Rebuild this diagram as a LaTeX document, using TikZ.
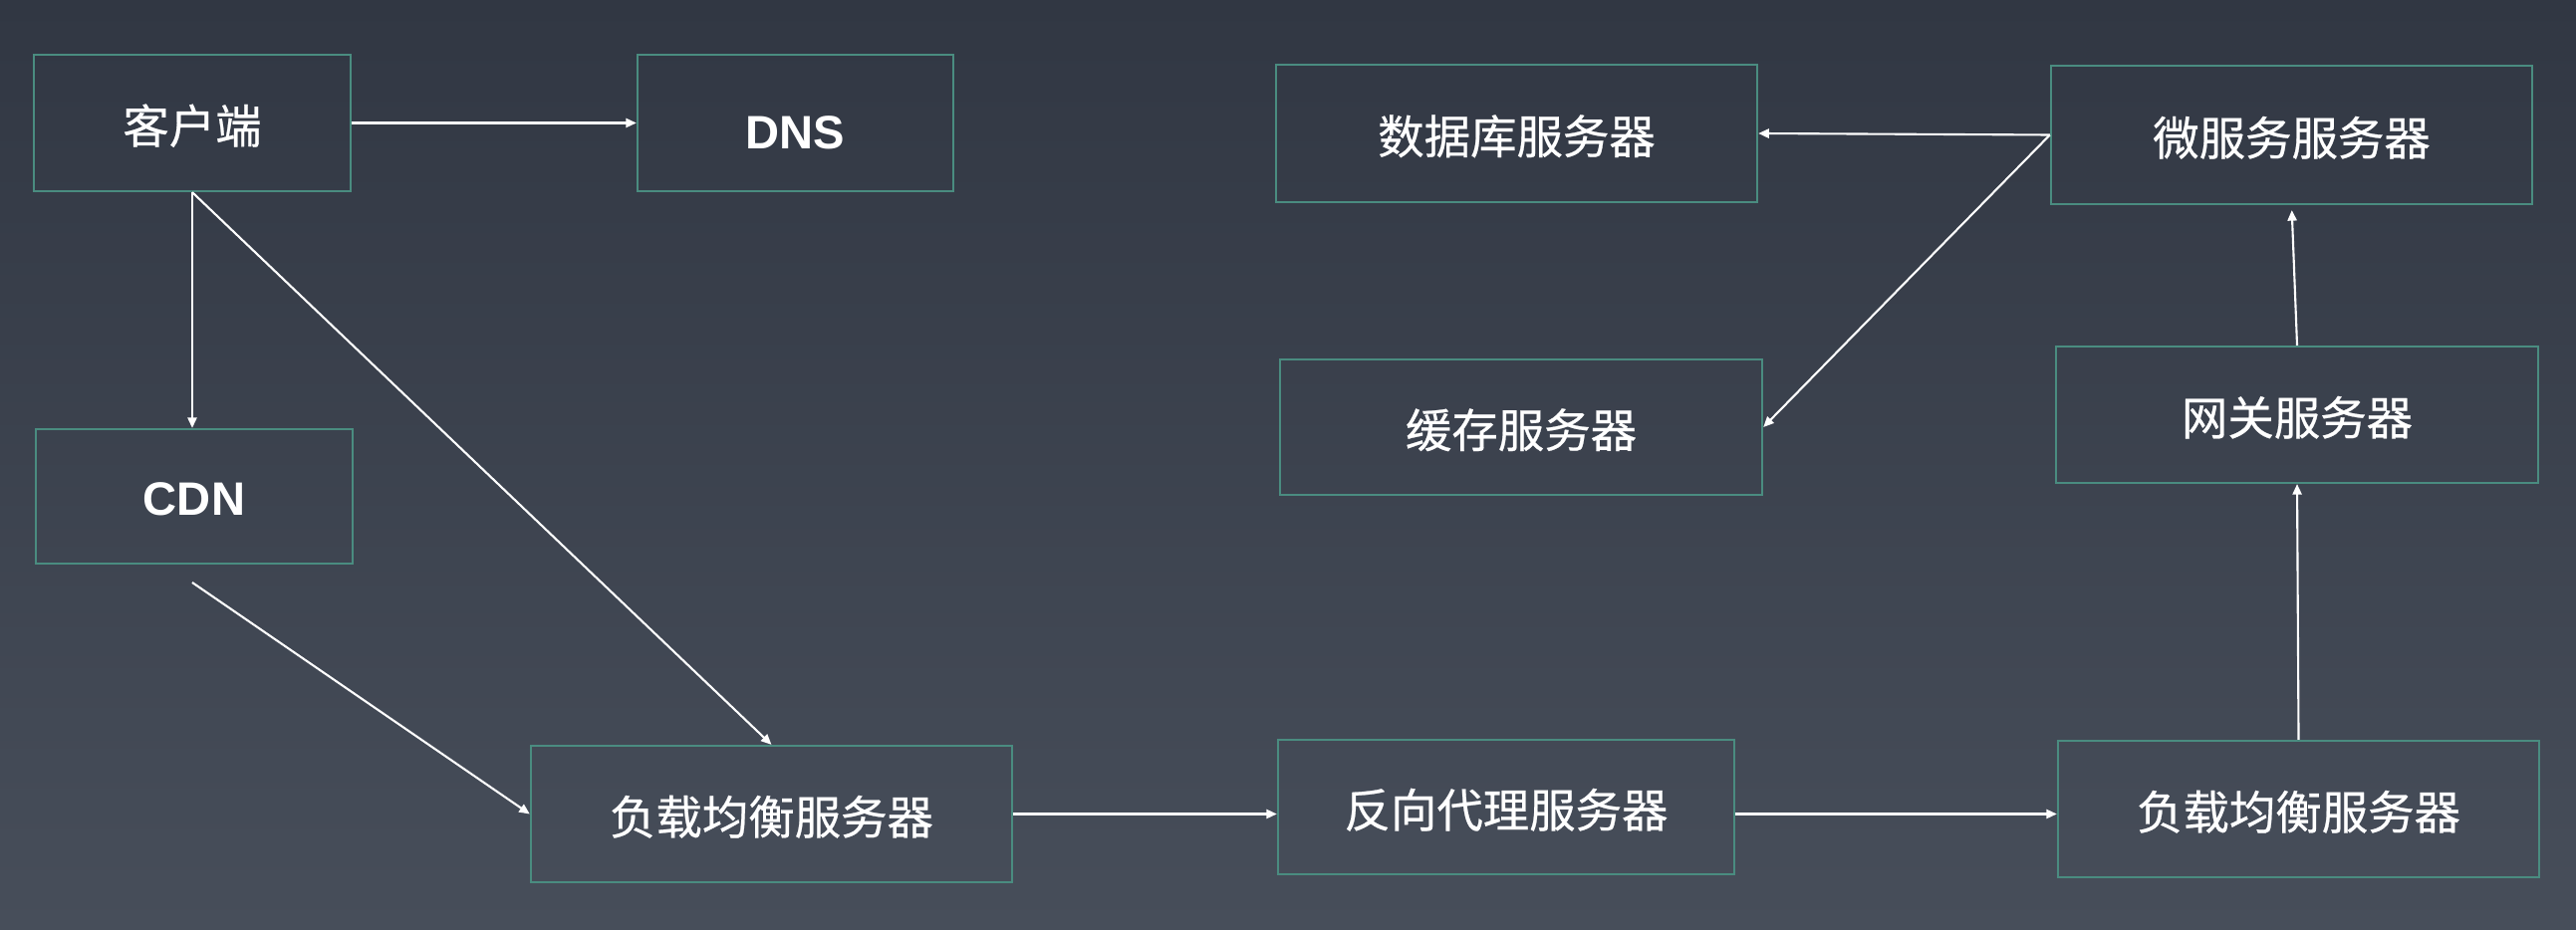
\documentclass[tikz,border=0pt]{standalone}
\usepackage{fontspec}
\usepackage{tikz}
\usetikzlibrary{arrows.meta}
\setmainfont{Liberation Sans}
\newfontfamily\cjk{Noto Sans CJK SC}[FakeBold=0.5]

\definecolor{bgtop}{HTML}{313743}
\definecolor{bgbottom}{HTML}{474E5A}
\definecolor{boxline}{HTML}{4A8C80}

\tikzset{
    srvbox/.style={draw=boxline, line width=0.6pt, text=white, inner sep=0pt,
        minimum width=4.83cm, minimum height=1.37cm, text height=12.5pt, text depth=0.9pt,
        font=\cjk\fontsize{13.2pt}{15pt}\selectfont},
    latinbox/.style={srvbox, text height=14.7pt, text depth=0pt,
        font=\bfseries\fontsize{13.4pt}{15pt}\selectfont},
    flow/.style={draw=white, line width=0.6pt, -{Triangle[length=3pt,width=2.6pt]}}
}

\begin{document}
\begin{tikzpicture}[x=0.01cm, y=-0.01cm]
    \shade[top color=bgtop, bottom color=bgbottom] (0,0) rectangle (2586,934);
    \useasboundingbox (0,0) rectangle (2586,934);

    % left column
    \node[srvbox, minimum width=3.18cm] (client) at (193,123.5) {客户端};
    \node[latinbox, minimum width=3.17cm] (dns) at (798.5,123.5) {DNS};
    \node[latinbox, minimum width=3.18cm, minimum height=1.35cm, text height=10.8pt] (cdn) at (195,498.5) {CDN};
    \coordinate (cdnout) at (193,585);

    % bottom row
    \node[srvbox] (lbfront) at (774.5,817.5) {负载均衡服务器};
    \node[srvbox, minimum width=4.58cm, minimum height=1.35cm] (proxy) at (1512,810.5) {反向代理服务器};
    \node[srvbox] (lbback) at (2307.5,812.5) {负载均衡服务器};

    % right column
    \node[srvbox, minimum width=4.84cm] (gateway) at (2306,416.5) {网关服务器};
    \node[srvbox, minimum height=1.39cm] (micro) at (2300.5,135.5) {微服务服务器};
    \node[srvbox, minimum height=1.38cm] (db) at (1522.5,134) {数据库服务器};
    \node[srvbox, minimum width=4.84cm, minimum height=1.36cm] (cache) at (1527,429) {缓存服务器};

    % connectors
    \draw[flow] (client.east) -- (dns.west);
    \draw[flow] (client.south) -- (cdn.north -| client.south);
    \draw[flow] (client.south) -- (lbfront.north);
    \draw[flow] (cdnout) -- (lbfront.west);
    \draw[flow] (lbfront.east) -- (lbfront.east -| proxy.west);
    \draw[flow] (lbfront.east -| proxy.east) -- (lbfront.east -| lbback.west);
    \draw[flow] (lbback.north) -- (gateway.south);
    \draw[flow, shorten >=0.05cm] (gateway.north) -- (micro.south);
    \draw[flow] (micro.west) -- (db.east);
    \draw[flow] (micro.west) -- (cache.east);
\end{tikzpicture}
\end{document}
